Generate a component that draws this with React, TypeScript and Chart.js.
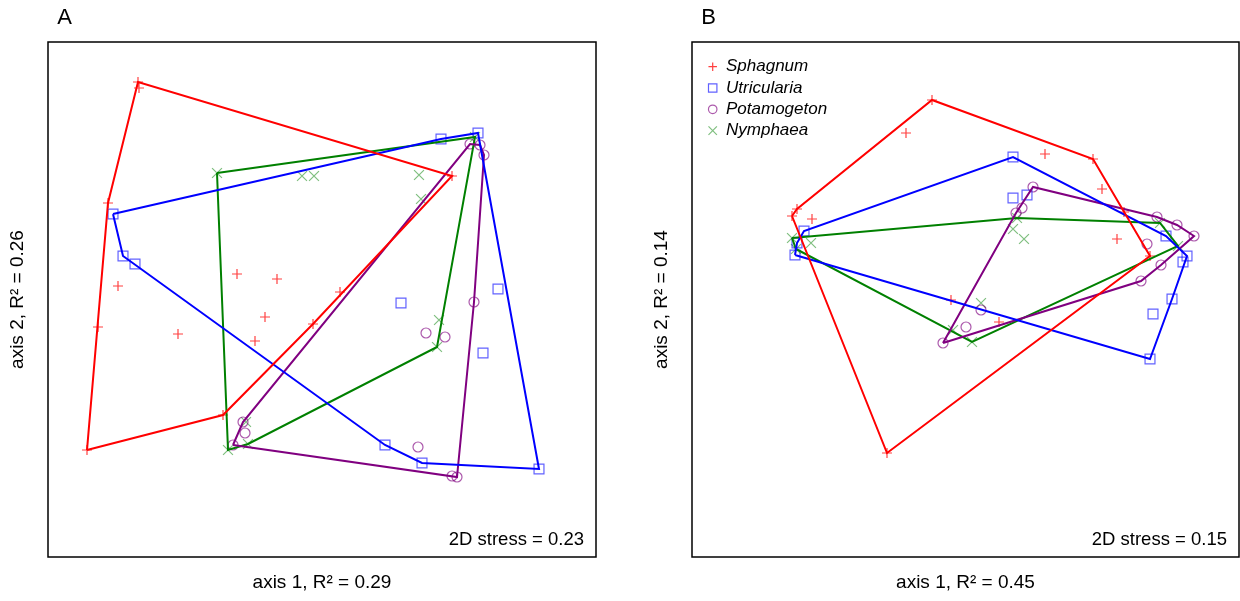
import React, { useEffect, useRef } from "react";
import { Chart, registerables } from "chart.js";

Chart.register(...registerables);

// ---------- data ----------
const SPECIES = ["Sphagnum", "Utricularia", "Potamogeton", "Nymphaea"];
const LINE_COLORS = ["#FF0000", "#0000FF", "#800080", "#008000"];
const MARKER_COLORS = ["rgba(255,0,0,0.75)", "rgba(0,0,255,0.62)", "rgba(128,0,128,0.65)", "rgba(0,128,0,0.5)"];
const MARKER_STYLES = ["cross", "rect", "circle", "crossRot"];
const MARKER_RADII = [5, 7, 5, 7];

// Panel A (NMDS scores, axis 1 / axis 2)
const A_SPHAGNUM = [
  [-0.736, 0.872], [-0.732, 0.848], [-0.856, 0.388], [-0.816, 0.056], [-0.896, -0.108],
  [-0.94, -0.6], [-0.576, -0.136], [-0.34, 0.104], [-0.18, 0.084], [-0.228, -0.068],
  [-0.268, -0.164], [-0.036, -0.096], [0.072, 0.032], [-0.396, -0.46], [0.52, 0.496],
];
const A_UTRICULARIA = [
  [-0.836, 0.344], [-0.796, 0.176], [-0.748, 0.144], [0.476, 0.644], [0.624, 0.668],
  [0.316, -0.012], [0.704, 0.044], [0.644, -0.212], [0.252, -0.58], [0.4, -0.652], [0.868, -0.676],
];
const A_POTAMOGETON = [
  [0.592, 0.624], [0.632, 0.62], [0.648, 0.58], [0.608, -0.008], [0.416, -0.132], [0.492, -0.148],
  [-0.316, -0.488], [-0.308, -0.532], [-0.356, -0.58], [0.384, -0.588], [0.52, -0.704], [0.54, -0.708],
];
const A_NYMPHAEA = [
  [-0.42, 0.508], [-0.08, 0.496], [-0.032, 0.496], [0.388, 0.5], [0.396, 0.404], [0.612, 0.652],
  [0.468, -0.08], [0.46, -0.188], [-0.304, -0.488], [-0.376, -0.6], [-0.296, -0.576],
];
const A_X_RANGE = [-1.096, 1.096];
const A_Y_RANGE = [-1.028, 1.032];

// Panel B
const B_SPHAGNUM = [
  [-0.136, 0.8], [-0.24, 0.668], [0.316, 0.584], [0.508, 0.564], [0.544, 0.444], [-0.676, 0.364],
  [-0.696, 0.336], [-0.616, 0.324], [0.632, 0.352], [0.604, 0.244], [0.736, 0.176], [-0.06, 0.0],
  [0.132, -0.088], [-0.316, -0.612],
];
const B_UTRICULARIA = [
  [0.188, 0.572], [0.188, 0.408], [0.244, 0.42], [-0.648, 0.276], [-0.676, 0.228], [-0.684, 0.18],
  [0.8, 0.256], [0.884, 0.176], [0.868, 0.152], [0.824, 0.004], [0.748, -0.056], [0.736, -0.236],
];
const B_POTAMOGETON = [
  [0.268, 0.452], [0.224, 0.368], [0.2, 0.348], [0.764, 0.332], [0.844, 0.3], [0.912, 0.256],
  [0.724, 0.224], [0.78, 0.14], [0.7, 0.076], [0.06, -0.04], [0.0, -0.108], [-0.092, -0.172],
];
const B_NYMPHAEA = [
  [-0.696, 0.248], [-0.62, 0.228], [-0.68, 0.204], [0.204, 0.328], [0.188, 0.284], [0.232, 0.244],
  [0.776, 0.308], [0.848, 0.216], [0.06, -0.012], [-0.052, -0.12], [0.024, -0.168],
];
const B_X_RANGE = [-1.096, 1.092];
const B_Y_RANGE = [-1.028, 1.032];

const PANELS = [
  {
    letter: "A",
    xTitle: "axis 1, R\u00B2 = 0.29",
    yTitle: "axis 2, R\u00B2 = 0.26",
    stress: "2D stress = 0.23",
    groups: [A_SPHAGNUM, A_UTRICULARIA, A_POTAMOGETON, A_NYMPHAEA],
    xRange: A_X_RANGE,
    yRange: A_Y_RANGE,
    legend: false,
  },
  {
    letter: "B",
    xTitle: "axis 1, R\u00B2 = 0.45",
    yTitle: "axis 2, R\u00B2 = 0.14",
    stress: "2D stress = 0.15",
    groups: [B_SPHAGNUM, B_UTRICULARIA, B_POTAMOGETON, B_NYMPHAEA],
    xRange: B_X_RANGE,
    yRange: B_Y_RANGE,
    legend: true,
  },
];

// ---------- helpers ----------
function convexHull(points: number[][]) {
  const pts = points.map((p) => ({ x: p[0], y: p[1] })).sort((a, b) => (a.x === b.x ? a.y - b.y : a.x - b.x));
  const cross = (o: any, a: any, b: any) => (a.x - o.x) * (b.y - o.y) - (a.y - o.y) * (b.x - o.x);
  const lower: any[] = [];
  for (const p of pts) {
    while (lower.length >= 2 && cross(lower[lower.length - 2], lower[lower.length - 1], p) <= 0) lower.pop();
    lower.push(p);
  }
  const upper: any[] = [];
  for (let i = pts.length - 1; i >= 0; i--) {
    const p = pts[i];
    while (upper.length >= 2 && cross(upper[upper.length - 2], upper[upper.length - 1], p) <= 0) upper.pop();
    upper.push(p);
  }
  upper.pop();
  lower.pop();
  const h = lower.concat(upper);
  h.push(h[0]);
  return h;
}

const FONT = '"Liberation Sans", Arial, Helvetica, sans-serif';

function drawMarker(ctx: CanvasRenderingContext2D, style: string, x: number, y: number, r: number, color: string) {
  ctx.save();
  ctx.strokeStyle = color;
  ctx.lineWidth = 1.2;
  ctx.beginPath();
  if (style === "cross") {
    ctx.moveTo(x - r, y); ctx.lineTo(x + r, y);
    ctx.moveTo(x, y - r); ctx.lineTo(x, y + r);
  } else if (style === "crossRot") {
    const d = r * Math.SQRT1_2;
    ctx.moveTo(x - d, y - d); ctx.lineTo(x + d, y + d);
    ctx.moveTo(x - d, y + d); ctx.lineTo(x + d, y - d);
  } else if (style === "rect") {
    const s = r * Math.SQRT1_2;
    ctx.rect(x - s, y - s, 2 * s, 2 * s);
  } else {
    ctx.arc(x, y, r, 0, Math.PI * 2);
  }
  ctx.stroke();
  ctx.restore();
}

const decorPlugin = {
  id: "panelDecor",
  afterDraw(chart: any, _args: any, opts: any) {
    const { ctx, chartArea: ca } = chart;
    ctx.save();
    ctx.strokeStyle = "#000";
    ctx.lineWidth = 1.5;
    ctx.strokeRect(ca.left, ca.top, ca.right - ca.left, ca.bottom - ca.top);
    ctx.fillStyle = "#000";
    ctx.textBaseline = "middle";
    // panel letter
    ctx.textAlign = "center";
    ctx.font = `22px ${FONT}`;
    ctx.fillText(opts.letter, ca.left + 16.5, 18);
    // axis titles
    ctx.font = `19px ${FONT}`;
    ctx.fillText(opts.xTitle, (ca.left + ca.right) / 2, ca.bottom + 26);
    ctx.save();
    ctx.translate(ca.left - 30, (ca.top + ca.bottom) / 2);
    ctx.rotate(-Math.PI / 2);
    ctx.fillText(opts.yTitle, 0, 0);
    ctx.restore();
    // stress
    ctx.textAlign = "right";
    ctx.font = `18.5px ${FONT}`;
    ctx.fillText(opts.stress, ca.right - 12, ca.bottom - 17);
    // legend
    if (opts.legend) {
      ctx.textAlign = "left";
      ctx.font = `italic 17px ${FONT}`;
      SPECIES.forEach((name, i) => {
        const y = ca.top + 24.7 + i * 21.3;
        drawMarker(ctx, MARKER_STYLES[i], ca.left + 20.7, y, MARKER_RADII[i] * 0.85, MARKER_COLORS[i]);
        ctx.fillText(name, ca.left + 34, y);
      });
    }
    ctx.restore();
  },
};

function Panel({ panel, left }: { panel: any; left: number }) {
  const ref = useRef<HTMLCanvasElement | null>(null);
  useEffect(() => {
    if (!ref.current) return;
    const datasets: any[] = [];
    panel.groups.forEach((g: number[][], i: number) => {
      datasets.push({
        label: SPECIES[i] + " hull",
        data: convexHull(g),
        showLine: true,
        borderColor: LINE_COLORS[i],
        borderWidth: 2,
        pointRadius: 0,
        fill: false,
        tension: 0,
        order: 0,
      });
    });
    panel.groups.forEach((g: number[][], i: number) => {
      datasets.push({
        label: SPECIES[i],
        data: g.map((p) => ({ x: p[0], y: p[1] })),
        showLine: false,
        pointStyle: MARKER_STYLES[i],
        pointRadius: MARKER_RADII[i],
        pointBorderWidth: 1.2,
        borderColor: MARKER_COLORS[i],
        pointBorderColor: MARKER_COLORS[i],
        backgroundColor: "rgba(0,0,0,0)",
        pointBackgroundColor: "rgba(0,0,0,0)",
        order: 1,
      });
    });
    const isA = !panel.legend;
    const chart = new Chart(ref.current, {
      type: "scatter",
      data: { datasets },
      options: {
        animation: false,
        responsive: false,
        events: [],
        layout: {
          autoPadding: false,
          padding: isA
            ? { left: 48, right: 24, top: 42, bottom: 44 }
            : { left: 72, right: 1, top: 42, bottom: 44 },
        },
        scales: {
          x: { type: "linear", display: false, min: panel.xRange[0], max: panel.xRange[1] },
          y: { type: "linear", display: false, min: panel.yRange[0], max: panel.yRange[1] },
        },
        plugins: {
          legend: { display: false },
          tooltip: { enabled: false },
          panelDecor: {
            letter: panel.letter,
            xTitle: panel.xTitle,
            yTitle: panel.yTitle,
            stress: panel.stress,
            legend: panel.legend,
          },
        } as any,
      } as any,
      plugins: [decorPlugin],
    });
    return () => chart.destroy();
  }, [panel]);
  return (
    <canvas
      ref={ref}
      width={620}
      height={601}
      style={{ position: "absolute", left, top: 0, width: 620, height: 601 }}
    />
  );
}

export default function App() {
  return (
    <div style={{ position: "fixed", left: 0, top: 0, width: 1240, height: 601, background: "#fff", overflow: "hidden" }}>
      <Panel panel={PANELS[0]} left={0} />
      <Panel panel={PANELS[1]} left={620} />
    </div>
  );
}
